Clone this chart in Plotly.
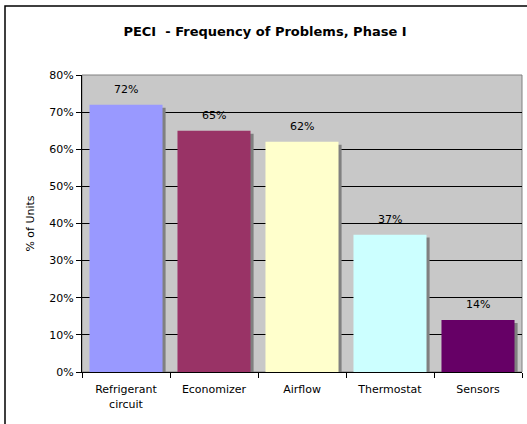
import plotly.graph_objects as go

categories = ["Refrigerant<br>circuit", "Economizer", "Airflow", "Thermostat", "Sensors"]
values = [72, 65, 62, 37, 14]
colors = ["#9999FF", "#993366", "#FFFFCC", "#CCFFFF", "#660066"]
y_ticks = [0, 10, 20, 30, 40, 50, 60, 70, 80]

FONT = "DejaVu Sans"
L, R, T, B = 82, 5, 75, 52
W, H = 527, 424
pw, ph = W - L - R, H - T - B

fig = go.Figure()
# shadow bars
fig.add_trace(go.Bar(
    x=categories, y=values, base=-0.8, width=0.83, offset=-0.415 + 0.035,
    marker=dict(color="#808080", line=dict(width=0)), hoverinfo="skip",
    showlegend=False,
))
fig.add_trace(go.Bar(
    x=categories, y=values, width=0.83, offset=-0.415,
    marker=dict(color=colors, line=dict(width=0)),
    showlegend=False,
))

annotations = [
    dict(x=c, y=v, xref="x", yref="y", text=f"{v}%", showarrow=False,
         yanchor="bottom", yshift=7,
         font=dict(family=FONT, size=11, color="#000000"))
    for c, v in zip(categories, values)
]

fig.update_layout(
    width=W, height=H,
    margin=dict(l=L, r=R, t=T, b=B, pad=0),
    paper_bgcolor="white", plot_bgcolor="#C8C8C8",
    barmode="overlay",
    title=dict(text="<b>PECI  - Frequency of Problems, Phase I</b>",
               x=265 / W, xanchor="center", y=1 - 31 / H, yanchor="middle",
               font=dict(family=FONT, size=13, color="#000000")),
    font=dict(family=FONT, size=11, color="#000000"),
    annotations=annotations,
    xaxis=dict(
        showgrid=False, tickson="boundaries", ticks="outside", ticklen=5,
        tickcolor="#000000", showline=True, linecolor="#000000", linewidth=1,
        tickfont=dict(family=FONT, size=11, color="#000000"),
        ticklabelstandoff=7,
        range=[-0.5, 4.5], fixedrange=True,
    ),
    yaxis=dict(
        range=[0, 80], tickvals=y_ticks, ticktext=[f"{v}%" for v in y_ticks],
        showgrid=True, gridcolor="#000000", gridwidth=1,
        ticks="outside", ticklen=5, tickcolor="#000000",
        showline=True, linecolor="#000000", linewidth=1, zeroline=False,
        tickfont=dict(family=FONT, size=11, color="#000000"),
        title=dict(text="% of Units", font=dict(family=FONT, size=11, color="#000000"), standoff=12),
    ),
    shapes=[
        dict(type="rect", xref="paper", yref="paper", x0=0, y0=0, x1=1, y1=1,
             line=dict(color="#808080", width=1), layer="below"),
        dict(type="rect", xref="paper", yref="paper",
             x0=(5 - L) / pw, x1=(W + 5 - L) / pw,
             y0=-(B + 5) / ph, y1=1 + (T - 6) / ph,
             line=dict(color="#000000", width=1.5)),
    ],
)

fig.write_html("out.html", config={"displayModeBar": False},
               post_script="document.body.style.margin='0';document.body.style.overflow='hidden';")
